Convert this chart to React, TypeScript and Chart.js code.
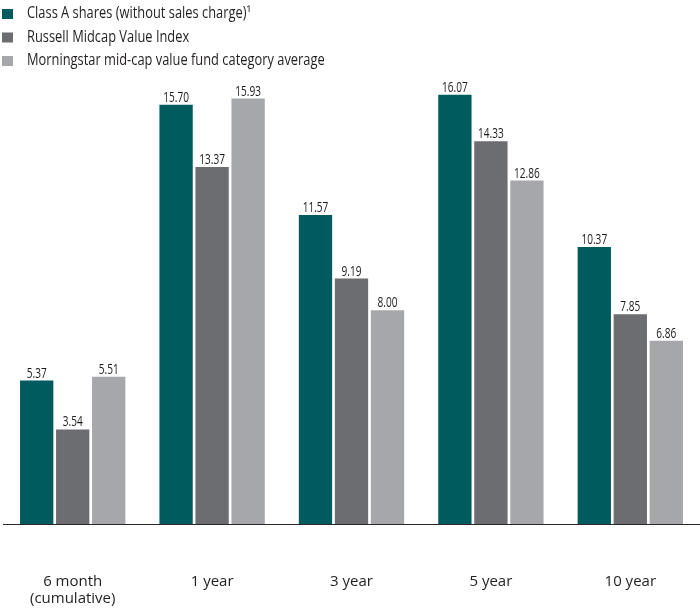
import React, { useEffect, useRef } from "react";
import { Chart, registerables } from "chart.js";

Chart.register(...registerables);

const categories: (string | string[])[] = [["6 month", "(cumulative)"], "1 year", "3 year", "5 year", "10 year"];
const classA = [5.37, 15.7, 11.57, 16.07, 10.37];
const russell = [3.54, 13.37, 9.19, 14.33, 7.85];
const morningstar = [5.51, 15.93, 8.0, 12.86, 6.86];
const seriesNames = [
  "Class A shares (without sales charge)\u00B9",
  "Russell Midcap Value Index",
  "Morningstar mid-cap value fund category average",
];
const colors = ["#005b5f", "#6c6d71", "#a5a7aa"];

const valueLabels = {
  id: "valueLabels",
  afterDatasetsDraw(chart: any) {
    const ctx = chart.ctx;
    chart.data.datasets.forEach((ds: any, i: number) => {
      const meta = chart.getDatasetMeta(i);
      meta.data.forEach((bar: any, j: number) => {
        ctx.save();
        ctx.fillStyle = "#1a1a1a";
        ctx.font = "14px 'Open Sans', sans-serif";
        ctx.textAlign = "center";
        ctx.textBaseline = "alphabetic";
        ctx.translate(bar.x, bar.y - 3);
        ctx.scale(0.72, 1);
        ctx.fillText(Number(ds.data[j]).toFixed(2), 0, 0);
        ctx.restore();
      });
    });
  },
};

const legendPlugin = {
  id: "customLegend",
  afterDraw(chart: any) {
    const ctx = chart.ctx;
    seriesNames.forEach((name, i) => {
      const cy = 14 + i * 23.5;
      ctx.save();
      ctx.fillStyle = colors[i];
      ctx.fillRect(2, cy - 5, 11, 10);
      ctx.fillStyle = "#231f20";
      ctx.font = "15.5px 'Open Sans', sans-serif";
      ctx.textBaseline = "middle";
      ctx.textAlign = "left";
      ctx.translate(27, cy);
      ctx.scale(0.83, 1);
      ctx.fillText(name, 0, 0);
      ctx.restore();
    });
  },
};

export default function App() {
  const ref = useRef<HTMLCanvasElement>(null);
  useEffect(() => {
    document.body.style.margin = "0";
    const chart = new Chart(ref.current!, {
      type: "bar",
      data: {
        labels: categories,
        datasets: [
          { label: seriesNames[0], data: classA, backgroundColor: colors[0] },
          { label: seriesNames[1], data: russell, backgroundColor: colors[1] },
          { label: seriesNames[2], data: morningstar, backgroundColor: colors[2] },
        ],
      },
      options: {
        responsive: false,
        animation: false,
        layout: { padding: { top: 70, left: 3, right: 0, bottom: 0 } },
        datasets: {
          bar: { categoryPercentage: 0.775, barPercentage: 0.925 },
        },
        plugins: {
          legend: { display: false },
          tooltip: { enabled: false },
        },
        scales: {
          y: { display: false, min: 0, max: 17 },
          x: {
            grid: { display: false, drawTicks: false },
            border: { display: true, color: "#2a2a2a", width: 1 },
            ticks: {
              color: "#231f20",
              font: { family: "'Open Sans', sans-serif", size: 15, lineHeight: 1.15 },
              padding: 49,
            },
            afterFit(scale: any) {
              scale.height = 84;
              scale.paddingLeft = 0;
              scale.paddingRight = 0;
            },
          },
        },
      },
      plugins: [valueLabels, legendPlugin],
    });
    return () => chart.destroy();
  }, []);
  return <canvas ref={ref} width={700} height={608} style={{ display: "block" }} />;
}
